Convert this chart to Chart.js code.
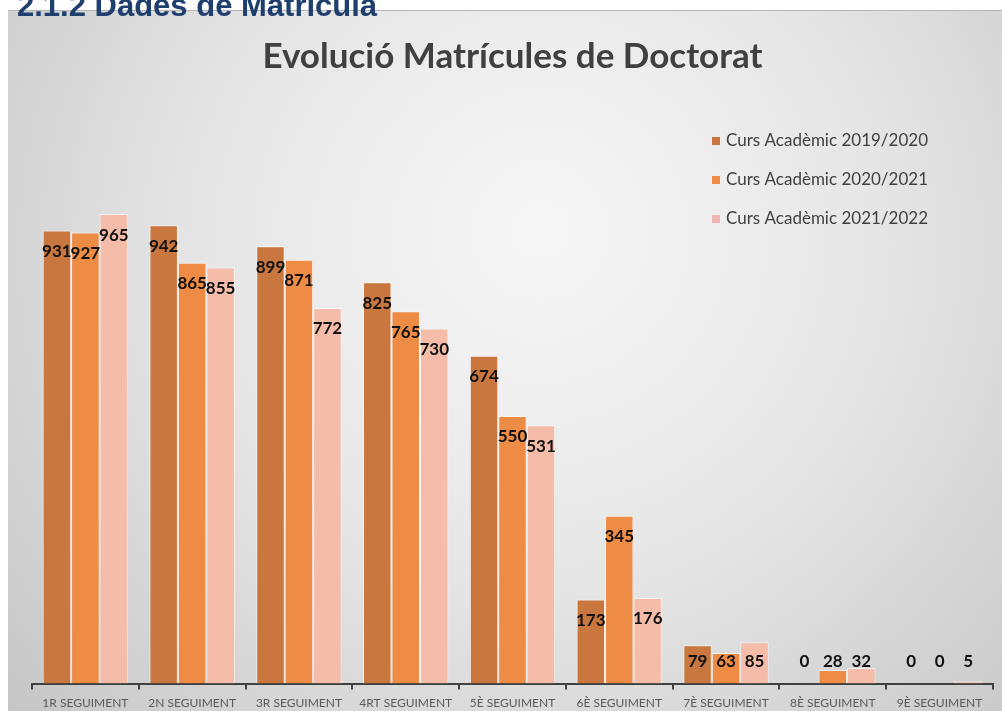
<!DOCTYPE html>
<html>
<head>
<meta charset="utf-8">
<script src="https://cdn.jsdelivr.net/npm/chart.js@4.4.0/dist/chart.umd.min.js"></script>
<style>
  html, body { margin: 0; padding: 0; background: #fff; overflow: hidden; }
  #wrap { position: relative; width: 1002px; height: 711px; overflow: hidden; }
</style>
</head>
<body>
<div id="wrap">
  <canvas id="matricules" width="1002" height="717"></canvas>
</div>
<script>
// Dades del gràfic
const categories = ['1R SEGUIMENT', '2N SEGUIMENT', '3R SEGUIMENT', '4RT SEGUIMENT', '5È SEGUIMENT',
                    '6È SEGUIMENT', '7È SEGUIMENT', '8È SEGUIMENT', '9È SEGUIMENT'];
const seriesLabels = ['Curs Acadèmic 2019/2020', 'Curs Acadèmic 2020/2021', 'Curs Acadèmic 2021/2022'];
const curs2019 = [931, 942, 899, 825, 674, 173, 79, 0, 0];
const curs2020 = [927, 865, 871, 765, 550, 345, 63, 28, 0];
const curs2021 = [965, 855, 772, 730, 531, 176, 85, 32, 5];
const barColors = ['#C9773E', '#EE8B45', '#F4BCA9'];
const legendColors = ['#C9773E', '#EE8B45', '#F4B4B4'];

const titleText = 'Evolució Matrícules de Doctorat';
const headingText = '2.1.2 Dades de Matrícula';

// Fons amb degradat + capçalera del document
const backgroundPlugin = {
  id: 'fons',
  beforeDraw(chart) {
    const c = chart.ctx;
    c.save();
    c.fillStyle = '#ffffff';
    c.fillRect(0, 0, chart.width, chart.height);
    const g = c.createRadialGradient(540, 230, 20, 540, 260, 720);
    g.addColorStop(0, '#f6f6f6');
    g.addColorStop(0.45, '#e6e6e6');
    g.addColorStop(1, '#c4c4c4');
    c.fillStyle = g;
    c.fillRect(8, 10, chart.width - 8, chart.height - 10);
    c.strokeStyle = '#b5b5b5';
    c.lineWidth = 1;
    c.beginPath();
    c.moveTo(8, 10.5);
    c.lineTo(chart.width, 10.5);
    c.stroke();
    // capçalera tallada a dalt
    c.fillStyle = '#1F3F6E';
    c.font = 'bold 31px "Liberation Sans", Arial, sans-serif';
    c.textBaseline = 'alphabetic';
    c.fillText(headingText, 17, 16);
    c.restore();
  }
};

// Etiquetes de valor dins de la barra
const valueLabels = {
  id: 'valors',
  afterDatasetsDraw(chart) {
    const c = chart.ctx;
    const floor = chart.scales.x.top - 22;
    c.save();
    c.font = 'bold 17px Lato, sans-serif';
    c.fillStyle = '#111111';
    c.textAlign = 'center';
    c.textBaseline = 'middle';
    chart.data.datasets.forEach((ds, i) => {
      chart.getDatasetMeta(i).data.forEach((el, j) => {
        const y = Math.min(el.y + 21, floor);
        c.fillText(String(ds.data[j]), el.x, y);
      });
    });
    c.restore();
  }
};

// Llegenda dibuixada dins l'àrea del gràfic
const insideLegend = {
  id: 'llegenda',
  afterDraw(chart) {
    const c = chart.ctx;
    c.save();
    c.font = '17px Lato, sans-serif';
    c.textBaseline = 'middle';
    c.textAlign = 'left';
    chart.data.datasets.forEach((ds, i) => {
      const y = 141 + i * 39;
      c.fillStyle = legendColors[i];
      c.fillRect(712, y - 4, 8, 8);
      c.fillStyle = '#404040';
      c.fillText(ds.label, 726, y);
    });
    c.restore();
  }
};

const data = {
  labels: categories,
  datasets: [
    { label: seriesLabels[0], data: curs2019, backgroundColor: barColors[0] },
    { label: seriesLabels[1], data: curs2020, backgroundColor: barColors[1] },
    { label: seriesLabels[2], data: curs2021, backgroundColor: barColors[2] }
  ].map(d => Object.assign(d, {
    borderColor: 'rgba(255,255,255,0.6)',
    borderWidth: 1,
    barPercentage: 1,
    categoryPercentage: 0.8
  }))
};

const config = {
  type: 'bar',
  data: data,
  options: {
    responsive: false,
    animation: false,
    layout: { padding: { left: 32, right: 9, top: 0, bottom: 1 } },
    plugins: {
      legend: { display: false },
      tooltip: { enabled: false },
      title: {
        display: true,
        text: titleText,
        color: '#404040',
        font: { family: 'Lato', size: 35, weight: 'bold' },
        padding: { top: 36, bottom: 119 }
      }
    },
    scales: {
      x: {
        grid: {
          display: true,
          drawOnChartArea: false,
          drawTicks: true,
          tickLength: 6,
          color: '#404040',
          lineWidth: 2
        },
        border: { display: true, color: '#404040', width: 2 },
        ticks: {
          color: '#595959',
          font: { family: 'Lato', size: 12 },
          padding: 6,
          maxRotation: 0,
          autoSkip: false
        }
      },
      y: {
        display: false,
        min: 0,
        max: 1000
      }
    }
  },
  plugins: [backgroundPlugin, valueLabels, insideLegend]
};

new Chart(document.getElementById('matricules').getContext('2d'), config);
</script>
</body>
</html>
